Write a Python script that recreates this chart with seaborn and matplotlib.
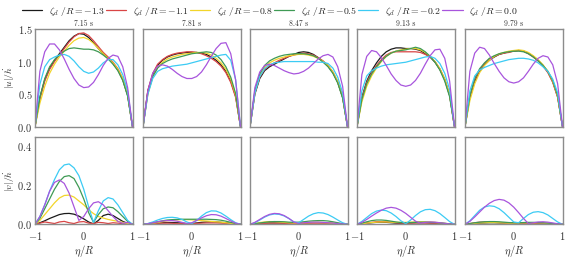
import seaborn as sns
import matplotlib.pyplot as plt
import pandas as pd

eta = [-1.0, -0.9, -0.8, -0.7, -0.6, -0.5, -0.4, -0.3, -0.2, -0.1, 0.0,
       0.1, 0.2, 0.3, 0.4, 0.5, 0.6, 0.7, 0.8, 0.9, 1.0]
zeta = ["-1.3", "-1.1", "-0.8", "-0.5", "-0.2", "0.0"]
times = ["7.15 s", "7.81 s", "8.47 s", "9.13 s", "9.79 s"]
colors = ["#1a1a1a", "#d94545", "#f2d52a", "#3f9a55", "#3ccbf4", "#a855dd"]

# |u|/hdot, one list per zeta_d (same order as zeta)
u_715 = [
    [0, 0.45, 0.72, 0.90, 1.02, 1.12, 1.22, 1.32, 1.39, 1.43, 1.42, 1.37, 1.29, 1.20, 1.12, 1.05, 0.97, 0.87, 0.72, 0.48, 0],
    [0, 0.42, 0.70, 0.88, 1.00, 1.10, 1.20, 1.30, 1.38, 1.43, 1.44, 1.40, 1.32, 1.23, 1.14, 1.07, 0.99, 0.89, 0.74, 0.50, 0],
    [0, 0.36, 0.62, 0.82, 0.96, 1.07, 1.16, 1.25, 1.32, 1.36, 1.37, 1.34, 1.28, 1.20, 1.12, 1.05, 0.98, 0.88, 0.74, 0.50, 0],
    [0, 0.45, 0.74, 0.92, 1.03, 1.10, 1.16, 1.20, 1.21, 1.20, 1.19, 1.19, 1.18, 1.15, 1.10, 1.04, 0.96, 0.86, 0.71, 0.47, 0],
    [0, 0.65, 0.92, 1.03, 1.07, 1.10, 1.11, 1.08, 1.01, 0.92, 0.85, 0.82, 0.84, 0.90, 0.98, 1.03, 1.03, 0.95, 0.80, 0.55, 0],
    [0, 0.85, 1.15, 1.27, 1.27, 1.18, 1.04, 0.88, 0.74, 0.64, 0.60, 0.61, 0.68, 0.80, 0.94, 1.05, 1.10, 1.08, 0.92, 0.60, 0],
]
u_781 = [
    [0, 0.55, 0.80, 0.94, 1.02, 1.07, 1.10, 1.12, 1.13, 1.14, 1.14, 1.14, 1.13, 1.11, 1.07, 1.02, 0.95, 0.85, 0.70, 0.47, 0],
    [0, 0.56, 0.82, 0.96, 1.03, 1.08, 1.11, 1.13, 1.14, 1.15, 1.15, 1.14, 1.12, 1.09, 1.05, 1.00, 0.93, 0.83, 0.68, 0.45, 0],
    [0, 0.50, 0.76, 0.91, 0.99, 1.04, 1.07, 1.09, 1.11, 1.12, 1.13, 1.14, 1.14, 1.13, 1.10, 1.05, 0.98, 0.88, 0.73, 0.49, 0],
    [0, 0.52, 0.77, 0.90, 0.97, 1.01, 1.04, 1.06, 1.08, 1.10, 1.12, 1.13, 1.14, 1.15, 1.14, 1.10, 1.03, 0.92, 0.76, 0.51, 0],
    [0, 0.50, 0.74, 0.85, 0.89, 0.91, 0.93, 0.94, 0.95, 0.96, 0.98, 1.00, 1.02, 1.04, 1.06, 1.08, 1.10, 1.11, 1.02, 0.72, 0],
    [0, 0.55, 0.82, 0.93, 0.95, 0.93, 0.88, 0.82, 0.77, 0.74, 0.74, 0.77, 0.84, 0.95, 1.08, 1.20, 1.28, 1.29, 1.12, 0.72, 0],
]
u_847 = [
    [0, 0.50, 0.74, 0.86, 0.92, 0.96, 1.00, 1.04, 1.08, 1.11, 1.14, 1.15, 1.14, 1.11, 1.06, 1.00, 0.93, 0.83, 0.68, 0.45, 0],
    [0, 0.52, 0.76, 0.88, 0.94, 0.98, 1.02, 1.05, 1.08, 1.10, 1.12, 1.13, 1.12, 1.10, 1.06, 1.01, 0.94, 0.84, 0.69, 0.46, 0],
    [0, 0.53, 0.78, 0.91, 0.98, 1.02, 1.05, 1.07, 1.09, 1.10, 1.11, 1.11, 1.10, 1.08, 1.05, 1.00, 0.94, 0.84, 0.69, 0.46, 0],
    [0, 0.55, 0.81, 0.94, 1.01, 1.05, 1.08, 1.10, 1.11, 1.12, 1.12, 1.12, 1.11, 1.09, 1.05, 0.99, 0.92, 0.82, 0.67, 0.44, 0],
    [0, 0.52, 0.77, 0.89, 0.95, 0.98, 0.99, 1.00, 1.00, 1.00, 1.00, 1.00, 1.00, 1.00, 0.99, 0.99, 0.97, 0.90, 0.76, 0.52, 0],
    [0, 0.60, 0.84, 0.94, 0.96, 0.94, 0.90, 0.86, 0.83, 0.81, 0.82, 0.85, 0.90, 0.97, 1.04, 1.09, 1.11, 1.07, 0.92, 0.62, 0],
]
u_913 = [
    [0, 0.45, 0.70, 0.86, 0.98, 1.08, 1.15, 1.19, 1.21, 1.21, 1.20, 1.20, 1.19, 1.17, 1.12, 1.07, 0.99, 0.88, 0.72, 0.48, 0],
    [0, 0.44, 0.68, 0.83, 0.94, 1.03, 1.10, 1.14, 1.15, 1.15, 1.15, 1.15, 1.15, 1.14, 1.11, 1.07, 1.00, 0.89, 0.73, 0.49, 0],
    [0, 0.38, 0.62, 0.78, 0.90, 1.00, 1.08, 1.13, 1.16, 1.18, 1.19, 1.20, 1.20, 1.18, 1.14, 1.08, 1.00, 0.89, 0.73, 0.49, 0],
    [0, 0.42, 0.66, 0.81, 0.92, 1.01, 1.08, 1.13, 1.16, 1.17, 1.18, 1.20, 1.22, 1.20, 1.15, 1.08, 0.99, 0.87, 0.70, 0.46, 0],
    [0, 0.55, 0.78, 0.86, 0.90, 0.93, 0.95, 0.96, 0.97, 0.98, 0.99, 1.01, 1.03, 1.05, 1.07, 1.08, 1.05, 0.97, 0.82, 0.57, 0],
    [0, 0.80, 1.08, 1.17, 1.15, 1.06, 0.94, 0.81, 0.71, 0.64, 0.62, 0.64, 0.71, 0.82, 0.96, 1.09, 1.18, 1.19, 1.05, 0.70, 0],
]
u_979 = [
    [0, 0.45, 0.70, 0.85, 0.95, 1.02, 1.07, 1.11, 1.13, 1.15, 1.16, 1.17, 1.16, 1.13, 1.08, 1.02, 0.94, 0.84, 0.69, 0.46, 0],
    [0, 0.47, 0.72, 0.87, 0.97, 1.04, 1.08, 1.11, 1.13, 1.14, 1.16, 1.17, 1.16, 1.12, 1.07, 1.01, 0.93, 0.83, 0.68, 0.45, 0],
    [0, 0.40, 0.66, 0.83, 0.94, 1.02, 1.08, 1.12, 1.14, 1.16, 1.17, 1.18, 1.17, 1.14, 1.09, 1.03, 0.95, 0.85, 0.70, 0.47, 0],
    [0, 0.48, 0.74, 0.89, 0.98, 1.05, 1.09, 1.12, 1.14, 1.15, 1.16, 1.16, 1.15, 1.12, 1.07, 1.01, 0.94, 0.85, 0.71, 0.48, 0],
    [0, 0.55, 0.78, 0.87, 0.91, 0.94, 0.97, 0.99, 1.01, 1.03, 1.04, 1.05, 1.05, 1.04, 1.02, 0.98, 0.92, 0.85, 0.73, 0.52, 0],
    [0, 0.85, 1.13, 1.22, 1.20, 1.10, 0.97, 0.85, 0.75, 0.69, 0.67, 0.69, 0.75, 0.85, 0.96, 1.05, 1.09, 1.07, 0.95, 0.66, 0],
]

# |v|/hdot
v_715 = [
    [0, 0.008, 0.018, 0.030, 0.040, 0.050, 0.055, 0.056, 0.052, 0.042, 0.028, 0.012, 0.002, 0.020, 0.045, 0.052, 0.045, 0.030, 0.015, 0.005, 0],
    [0, 0.006, 0.012, 0.008, 0.004, 0.012, 0.015, 0.008, 0.004, 0.012, 0.014, 0.006, 0.004, 0.010, 0.008, 0.004, 0.008, 0.006, 0.003, 0.002, 0],
    [0, 0.02, 0.05, 0.08, 0.11, 0.135, 0.148, 0.15, 0.14, 0.12, 0.10, 0.075, 0.055, 0.04, 0.032, 0.025, 0.02, 0.015, 0.01, 0.005, 0],
    [0, 0.03, 0.08, 0.13, 0.18, 0.22, 0.245, 0.25, 0.235, 0.19, 0.13, 0.06, 0.01, 0.05, 0.08, 0.089, 0.085, 0.065, 0.04, 0.015, 0],
    [0, 0.04, 0.10, 0.17, 0.23, 0.28, 0.305, 0.31, 0.29, 0.25, 0.18, 0.09, 0.01, 0.07, 0.12, 0.137, 0.13, 0.10, 0.06, 0.02, 0],
    [0, 0.04, 0.10, 0.17, 0.215, 0.228, 0.21, 0.16, 0.09, 0.02, 0.04, 0.08, 0.11, 0.116, 0.10, 0.07, 0.04, 0.015, 0.005, 0.01, 0],
]
v_781 = [
    [0, 0.002, 0.004, 0.006, 0.008, 0.009, 0.009, 0.008, 0.006, 0.004, 0.004, 0.007, 0.010, 0.012, 0.013, 0.012, 0.010, 0.008, 0.005, 0.002, 0],
    [0, 0.002, 0.004, 0.005, 0.006, 0.006, 0.005, 0.004, 0.003, 0.003, 0.004, 0.005, 0.006, 0.007, 0.007, 0.007, 0.006, 0.005, 0.003, 0.001, 0],
    [0, 0.002, 0.006, 0.010, 0.014, 0.018, 0.021, 0.023, 0.024, 0.024, 0.023, 0.021, 0.019, 0.017, 0.015, 0.013, 0.011, 0.008, 0.005, 0.002, 0],
    [0, 0.003, 0.008, 0.013, 0.018, 0.022, 0.024, 0.025, 0.026, 0.026, 0.026, 0.026, 0.026, 0.026, 0.025, 0.024, 0.021, 0.016, 0.010, 0.004, 0],
    [0, 0.004, 0.012, 0.022, 0.030, 0.035, 0.036, 0.033, 0.025, 0.012, 0.003, 0.020, 0.042, 0.060, 0.069, 0.068, 0.058, 0.042, 0.024, 0.008, 0],
    [0, 0.003, 0.008, 0.013, 0.017, 0.019, 0.019, 0.016, 0.010, 0.003, 0.008, 0.020, 0.033, 0.044, 0.050, 0.049, 0.042, 0.030, 0.017, 0.006, 0],
]
v_847 = [
    [0, 0.002, 0.004, 0.006, 0.007, 0.007, 0.007, 0.006, 0.005, 0.005, 0.006, 0.007, 0.008, 0.009, 0.009, 0.008, 0.007, 0.005, 0.003, 0.001, 0],
    [0, 0.002, 0.004, 0.005, 0.006, 0.006, 0.006, 0.005, 0.004, 0.004, 0.004, 0.005, 0.006, 0.006, 0.006, 0.006, 0.005, 0.004, 0.003, 0.001, 0],
    [0, 0.004, 0.009, 0.012, 0.014, 0.014, 0.012, 0.010, 0.008, 0.007, 0.007, 0.008, 0.009, 0.010, 0.010, 0.009, 0.008, 0.006, 0.004, 0.002, 0],
    [0, 0.003, 0.007, 0.010, 0.013, 0.014, 0.014, 0.013, 0.011, 0.010, 0.011, 0.013, 0.016, 0.018, 0.019, 0.019, 0.017, 0.013, 0.008, 0.003, 0],
    [0, 0.008, 0.022, 0.037, 0.048, 0.053, 0.051, 0.043, 0.029, 0.012, 0.008, 0.025, 0.042, 0.054, 0.060, 0.058, 0.050, 0.037, 0.022, 0.008, 0],
    [0, 0.010, 0.025, 0.040, 0.051, 0.056, 0.054, 0.045, 0.030, 0.012, 0.004, 0.008, 0.010, 0.011, 0.011, 0.010, 0.008, 0.006, 0.004, 0.002, 0],
]
v_913 = [
    [0, 0.002, 0.005, 0.008, 0.010, 0.011, 0.010, 0.008, 0.006, 0.005, 0.006, 0.007, 0.008, 0.008, 0.008, 0.007, 0.006, 0.005, 0.003, 0.001, 0],
    [0, 0.003, 0.007, 0.010, 0.013, 0.014, 0.013, 0.011, 0.008, 0.006, 0.005, 0.006, 0.007, 0.007, 0.007, 0.006, 0.005, 0.004, 0.003, 0.001, 0],
    [0, 0.003, 0.006, 0.009, 0.011, 0.012, 0.012, 0.011, 0.010, 0.010, 0.010, 0.011, 0.012, 0.013, 0.013, 0.012, 0.010, 0.008, 0.005, 0.002, 0],
    [0, 0.006, 0.013, 0.019, 0.022, 0.022, 0.020, 0.016, 0.012, 0.009, 0.008, 0.009, 0.010, 0.011, 0.011, 0.010, 0.009, 0.007, 0.005, 0.002, 0],
    [0, 0.015, 0.035, 0.055, 0.068, 0.073, 0.070, 0.058, 0.040, 0.018, 0.003, 0.022, 0.045, 0.064, 0.075, 0.077, 0.070, 0.055, 0.035, 0.014, 0],
    [0, 0.010, 0.025, 0.042, 0.058, 0.072, 0.083, 0.087, 0.083, 0.072, 0.056, 0.036, 0.016, 0.006, 0.010, 0.012, 0.011, 0.008, 0.005, 0.002, 0],
]
v_979 = [
    [0, 0.002, 0.004, 0.006, 0.007, 0.008, 0.008, 0.007, 0.006, 0.005, 0.005, 0.006, 0.007, 0.007, 0.007, 0.006, 0.005, 0.004, 0.003, 0.001, 0],
    [0, 0.004, 0.008, 0.011, 0.012, 0.012, 0.011, 0.009, 0.007, 0.005, 0.004, 0.005, 0.006, 0.006, 0.006, 0.006, 0.005, 0.004, 0.003, 0.002, 0],
    [0, 0.002, 0.005, 0.007, 0.008, 0.009, 0.009, 0.008, 0.007, 0.006, 0.006, 0.007, 0.008, 0.008, 0.008, 0.008, 0.007, 0.005, 0.003, 0.001, 0],
    [0, 0.004, 0.008, 0.011, 0.013, 0.014, 0.014, 0.013, 0.011, 0.009, 0.008, 0.008, 0.009, 0.010, 0.010, 0.009, 0.008, 0.006, 0.004, 0.002, 0],
    [0, 0.018, 0.045, 0.072, 0.089, 0.095, 0.092, 0.080, 0.060, 0.036, 0.012, 0.008, 0.030, 0.050, 0.062, 0.065, 0.060, 0.048, 0.030, 0.012, 0],
    [0, 0.015, 0.038, 0.063, 0.088, 0.108, 0.122, 0.128, 0.124, 0.110, 0.088, 0.060, 0.030, 0.004, 0.008, 0.012, 0.013, 0.011, 0.007, 0.003, 0],
]

u_panels = [u_715, u_781, u_847, u_913, u_979]
v_panels = [v_715, v_781, v_847, v_913, v_979]


def long_table(curves):
    rows = []
    for z, vals in zip(zeta, curves):
        for e, val in zip(eta, vals):
            rows.append({"eta": e, "val": val, "zeta": z})
    return pd.DataFrame(rows)


sns.set_style("white")
plt.rcParams["font.family"] = ["cmr10", "DejaVu Serif"]
plt.rcParams["mathtext.fontset"] = "cm"
plt.rcParams["axes.formatter.use_mathtext"] = True

fig = plt.figure(figsize=(5.68, 2.6), dpi=100)
lefts = [35, 143, 250, 357, 465]
w = 97.5 / 568
pal = dict(zip(zeta, colors))

for row, panels in enumerate([u_panels, v_panels]):
    for col, curves in enumerate(panels):
        if row == 0:
            ax = fig.add_axes([lefts[col] / 568, 1 - 126.7 / 260, w, 97.7 / 260])
        else:
            ax = fig.add_axes([lefts[col] / 568, 1 - 224.3 / 260, w, 87.6 / 260])
        sns.lineplot(data=long_table(curves), x="eta", y="val", hue="zeta",
                     palette=pal, linewidth=0.9, legend=False, ax=ax)
        ax.set_xlim(-1, 1)
        ax.set_xticks([-1, 0, 1])
        for s in ax.spines.values():
            s.set_color("#8c8c8c")
            s.set_linewidth(1.0)
        ax.tick_params(axis="y", length=0, labelsize=7.5, pad=2, colors="#333333")
        ax.tick_params(axis="x", length=0, labelsize=7.5, pad=4, colors="#333333")
        ax.set_xlabel("")
        ax.set_ylabel("")
        if row == 0:
            ax.set_ylim(0, 1.5)
            ax.set_yticks([0, 0.5, 1.0, 1.5])
            ax.set_xticklabels([])
            ax.set_title(times[col], fontsize=5.5, pad=2, color="#333333")
            if col == 0:
                ax.set_ylabel(r"$|u|/\dot{h}$", fontsize=7, labelpad=0)
        else:
            ax.set_ylim(0, 0.45)
            ax.set_yticks([0, 0.2, 0.4])
            ax.set_xlabel(r"$\eta/R$", fontsize=7.5, labelpad=1)
            if col == 0:
                ax.set_ylabel(r"$|v|/\dot{h}$", fontsize=7, labelpad=0)
        if col > 0:
            ax.set_yticklabels([])
        if row == 0 and col == 0:
            handles = ax.get_lines()

labels = [r"$\zeta_d\ /R=" + z + "$" for z in zeta]
fig.legend(handles[:6], labels, loc="upper center", bbox_to_anchor=(0.475, 1.015),
           ncol=6, frameon=False, fontsize=7.0, handlelength=2.1,
           handletextpad=0.7, columnspacing=0.1)

fig.savefig("out.png", dpi=100)
